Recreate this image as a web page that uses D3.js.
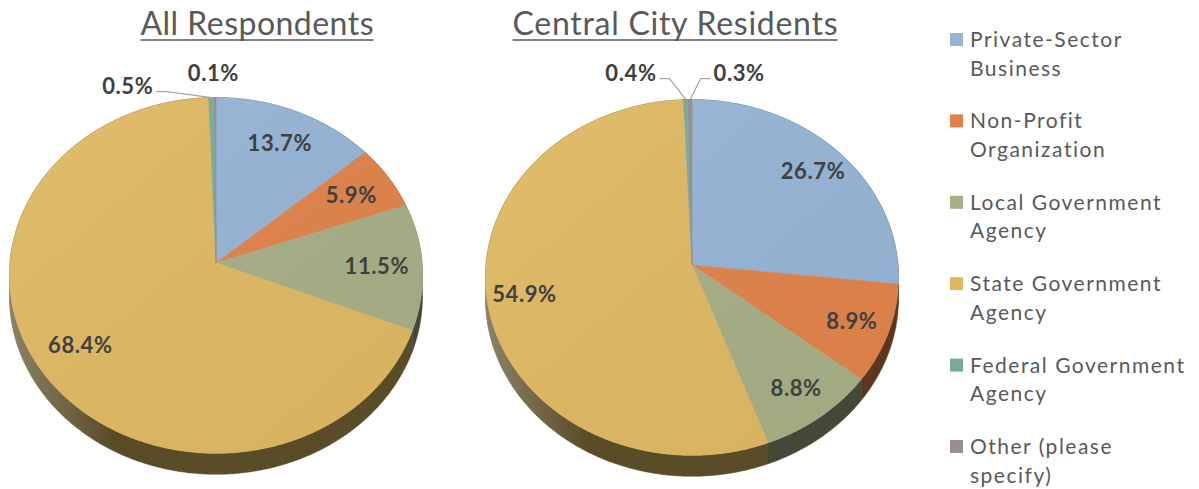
<!DOCTYPE html>
<html><head><meta charset="utf-8">
<script src="https://cdn.jsdelivr.net/npm/d3@7"></script>
<style>body{margin:0;background:#fff}svg{display:block}</style>
</head><body>
<svg id="c" width="1199" height="489"></svg>
<script>
// ---------- data ----------
const categories = ["Private-Sector Business","Non-Profit Organization","Local Government Agency","State Government Agency","Federal Government Agency","Other (please specify)"];
const legendLines = [["Private-Sector","Business"],["Non-Profit","Organization"],["Local Government","Agency"],["State Government","Agency"],["Federal Government","Agency"],["Other (please","specify)"]];
const titles = ["All Respondents","Central City Residents"];
const allRespondents = [13.7, 5.9, 11.5, 68.4, 0.5, 0.1];
const centralCityResidents = [26.7, 8.9, 8.8, 54.9, 0.4, 0.3];
const valueLabels = [["13.7%","5.9%","11.5%","68.4%","0.5%","0.1%"],["26.7%","8.9%","8.8%","54.9%","0.4%","0.3%"]];

// ---------- styling / layout ----------
const colors = ["#95b4d6","#e0834a","#a7af86","#dfb962","#7aa99a","#998d8d"];
const pies = [
  {values: allRespondents, cx: 216, cy: 263, lr: 0.78, titleX: 257, titleW: 233, outside: {4: [-84, -12, true], 5: [-2, -25, false]}},
  {values: centralCityResidents, cx: 692, cy: 265, lr: 0.82, titleX: 675, titleW: 325, outside: {4: [-55, -27, true], 5: [49, -27, true]}}
];
const A = 206, B = 177, K = 0.07, T = 21;
const LABEL_FONT = "Lato, sans-serif";

const svg = d3.select("#c");
const defs = svg.append("defs");
const sideGrad = defs.append("linearGradient").attr("id","sideg").attr("x1","0").attr("x2","1").attr("y1","0").attr("y2","0");
sideGrad.append("stop").attr("offset","0").attr("stop-color","#fff").attr("stop-opacity",0.3);
sideGrad.append("stop").attr("offset","0.25").attr("stop-color","#fff").attr("stop-opacity",0);
sideGrad.append("stop").attr("offset","1").attr("stop-color","#fff").attr("stop-opacity",0);
const topGrad = defs.append("linearGradient").attr("id","topg").attr("x1","0").attr("x2","1").attr("y1","0").attr("y2","1");
topGrad.append("stop").attr("offset","0").attr("stop-color","#fff").attr("stop-opacity",0.07);
topGrad.append("stop").attr("offset","1").attr("stop-color","#000").attr("stop-opacity",0.03);

const pieGen = d3.pie().sort(null).value(d => d).startAngle(0).endAngle(2*Math.PI);
const line = d3.line();

pies.forEach((p, pi) => {
  const g = svg.append("g");
  const proj = (th, r=1, dy=0) => {
    const u = r*Math.sin(th), v = -r*Math.cos(th);
    const s = 1 - K*v;
    return [p.cx + A*u/s, p.cy + B*v/s + dy];
  };
  const arcPts = (a0, a1, dy=0) => {
    const n = Math.max(2, Math.ceil((a1-a0)/0.01));
    return d3.range(n+1).map(i => proj(a0 + (a1-a0)*i/n, 1, dy));
  };
  const arcs = pieGen(p.values);
  // sides
  arcs.forEach((d, i) => {
    const top = arcPts(d.startAngle, d.endAngle, 0);
    const bot = arcPts(d.startAngle, d.endAngle, T).reverse();
    const sc = d3.color(colors[i]).darker(2.5);
    g.append("path").attr("d", line(top.concat(bot)) + "Z")
      .attr("fill", sc).attr("stroke", sc).attr("stroke-width",0.5);
  });
  // side highlight overlay (front rim)
  const fTop = arcPts(Math.PI/2, 3*Math.PI/2, 0);
  const fBot = arcPts(Math.PI/2, 3*Math.PI/2, T).reverse();
  g.append("path").attr("d", line(fTop.concat(fBot)) + "Z").attr("fill","url(#sideg)");
  // top faces
  arcs.forEach((d, i) => {
    const pts = [proj(0,0)].concat(arcPts(d.startAngle, d.endAngle, 0));
    g.append("path").attr("d", line(pts) + "Z").attr("fill", colors[i])
      .attr("stroke", colors[i]).attr("stroke-width", 0.6);
  });
  g.append("path").attr("d", line(arcPts(0, 2*Math.PI)) + "Z").attr("fill","url(#topg)");
  // labels
  const lbl = (x, y, txt) => g.append("text").attr("x", x).attr("y", y).attr("dy","0.36em").attr("text-anchor","middle")
      .attr("font-family", LABEL_FONT).attr("font-weight","bold").attr("font-size",22)
      .attr("letter-spacing", 0.6).attr("fill","#404040").text(txt);
  arcs.forEach((d, i) => {
    const mid = (d.startAngle + d.endAngle)/2;
    const txt = valueLabels[pi][i];
    const o = p.outside[i];
    if (o) {
      const anc = proj(mid, 1);
      const lx = anc[0] + o[0], ly = anc[1] + o[1];
      const t = lbl(lx, ly, txt);
      if (o[2]) {
        const w = t.node().getComputedTextLength();
        const side = o[0] < 0 ? 1 : -1;
        const ex = lx + side*(w/2 + 3), yy = ly + 6;
        const elbow = [ex + side*10, yy];
        g.append("path").attr("d", line([[ex, yy], elbow, anc])).attr("fill","none").attr("stroke","#a6a6a6").attr("stroke-width",1.3);
      }
    } else {
      const c = proj(mid, p.lr);
      lbl(c[0], c[1], txt);
    }
  });
  // title
  svg.append("text").attr("x", p.titleX).attr("y", 35).attr("text-anchor","middle")
    .attr("font-family", LABEL_FONT).attr("font-size",32).attr("fill","#595959")
    .attr("textLength", p.titleW).attr("lengthAdjust","spacing").text(titles[pi]);
  svg.append("line").attr("x1", p.titleX - p.titleW/2).attr("x2", p.titleX + p.titleW/2).attr("y1", 40).attr("y2", 40)
    .attr("stroke","#595959").attr("stroke-width",1.6);
});

// legend
const lg = svg.append("g");
categories.forEach((c, i) => {
  const y0 = 33 + i*81.4;
  lg.append("rect").attr("x", 950).attr("y", y0).attr("width", 13).attr("height", 13).attr("fill", colors[i]);
  legendLines[i].forEach((s, j) => {
    lg.append("text").attr("x", 970).attr("y", y0 + 14 + j*28.5)
      .attr("font-family", LABEL_FONT).attr("font-size",21).attr("letter-spacing",1.5).attr("fill","#595959").text(s);
  });
});
</script>
</body></html>
